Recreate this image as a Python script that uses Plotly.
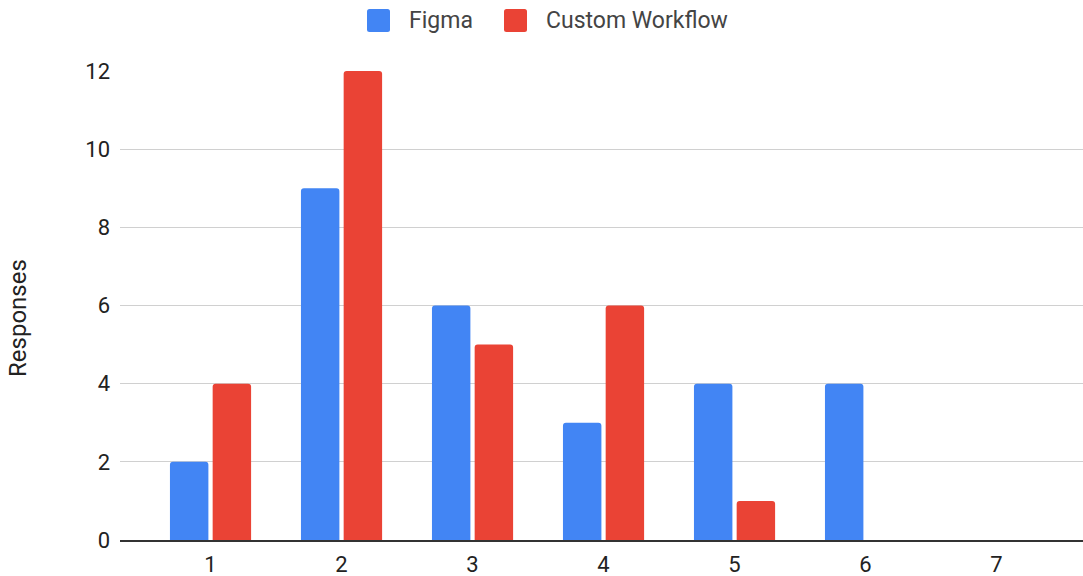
import plotly.graph_objects as go

# Survey responses per rating
ratings = [1, 2, 3, 4, 5, 6, 7]
rating_labels = ["1", "2", "3", "4", "5", "6", "7"]
figma = [2, 9, 6, 3, 4, 4, 0]
custom_workflow = [4, 12, 5, 6, 1, 0, 0]
series_names = ["Figma", "Custom Workflow"]
series_colors = ["#4285F4", "#EA4335"]
y_ticks = [0, 2, 4, 6, 8, 10, 12]
y_title = "Responses"

FONT = "Roboto, Arial, sans-serif"
W, H = 1083, 576
ML, MR, MT, MB = 120, 0, 71, 36
PW, PH = W - ML - MR, H - MT - MB


def px_x(px):
    return (px - ML) / PW


def px_y(py):
    return (H - MB - py) / PH


fig = go.Figure()
for name, vals, color in zip(series_names, [figma, custom_workflow], series_colors):
    fig.add_trace(go.Bar(
        x=ratings, y=vals, name=name,
        marker=dict(color=color, line=dict(width=0)),
        showlegend=False,
    ))

# Legend drawn as rounded swatches plus labels across the top
legend_items = [(367, 407), (504, 544)]
shapes = []
annotations = []
for (sx, tx), name, color in zip(legend_items, series_names, series_colors):
    x0, x1, y0, y1 = px_x(sx), px_x(sx + 23), px_y(32), px_y(9)
    r = 2.5
    rx, ry = r / PW, r / PH
    path = (
        f"M{x0 + rx},{y0} L{x1 - rx},{y0} Q{x1},{y0} {x1},{y0 + ry} "
        f"L{x1},{y1 - ry} Q{x1},{y1} {x1 - rx},{y1} "
        f"L{x0 + rx},{y1} Q{x0},{y1} {x0},{y1 - ry} "
        f"L{x0},{y0 + ry} Q{x0},{y0} {x0 + rx},{y0} Z"
    )
    shapes.append(dict(
        type="path", xref="paper", yref="paper", path=path,
        fillcolor=color, line=dict(width=0), layer="above",
    ))
    annotations.append(dict(
        text=name, xref="paper", yref="paper", x=px_x(tx), y=px_y(21),
        xanchor="left", yanchor="middle", showarrow=False,
        font=dict(family=FONT, size=23, color="#444444"),
    ))

# Vertical axis title
annotations.append(dict(
    text=y_title, xref="paper", yref="paper", x=px_x(18), y=px_y(318),
    xanchor="center", yanchor="middle", textangle=-90, showarrow=False,
    font=dict(family=FONT, size=24, color="#222222"),
))

fig.update_layout(
    width=W, height=H,
    margin=dict(l=ML, r=MR, t=MT, b=MB),
    paper_bgcolor="white", plot_bgcolor="white",
    barmode="group", bargap=0.348, bargroupgap=0.1,
    barcornerradius=3,
    font=dict(family=FONT, size=22, color="#222222"),
    shapes=shapes, annotations=annotations,
    xaxis=dict(
        range=[0.309, 7.66],
        tickmode="array", tickvals=ratings, ticktext=rating_labels,
        showgrid=False, zeroline=False,
        showline=True, linecolor="#333333", linewidth=2,
        ticks="", ticklabelstandoff=4,
        tickfont=dict(family=FONT, size=22, color="#222222"),
        automargin=False,
    ),
    yaxis=dict(
        range=[0, 12], tickmode="array", tickvals=y_ticks,
        showgrid=True, gridcolor="#D0D0D0", gridwidth=1,
        zeroline=False, showline=False, ticks="",
        ticklabelstandoff=9,
        tickfont=dict(family=FONT, size=22, color="#222222"),
        automargin=False,
    ),
)

fig.write_html("out.html")
